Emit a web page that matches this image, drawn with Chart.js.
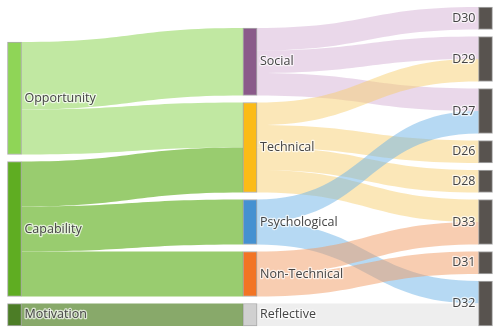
<!DOCTYPE html>
<html>
<head>
<meta charset="utf-8">
<script src="https://cdn.jsdelivr.net/npm/chart.js@4.4.1/dist/chart.umd.min.js"></script>
<style>
  html, body { margin: 0; padding: 0; background: #fff; }
  #wrap { width: 498px; height: 333px; }
</style>
</head>
<body>
<div id="wrap"><canvas id="sankeyChart" width="498" height="333"></canvas></div>
<script>
// nodes
const nodeLabels = ['Opportunity', 'Capability', 'Motivation',
    'Social', 'Technical', 'Psychological', 'Non-Technical', 'Reflective',
    'D30', 'D29', 'D27', 'D26', 'D28', 'D33', 'D31', 'D32'];
const nodeColumns = [0, 0, 0, 1, 1, 1, 1, 1, 2, 2, 2, 2, 2, 2, 2, 2];
const nodeColors = ['#8fd557', '#5fad22', '#4c7d26',
    '#8a5a8a', '#fbbb17', '#4591d1', '#f27424', '#d0d0d0',
    '#58534f', '#58534f', '#58534f', '#58534f', '#58534f', '#58534f', '#58534f', '#58534f'];

// links
const linkSources = [0, 0, 1, 1, 1, 2, 3, 3, 3, 4, 4, 4, 4, 5, 5, 6, 6, 7];
const linkTargets = [3, 4, 4, 5, 6, 7, 8, 9, 10, 9, 11, 12, 13, 10, 15, 13, 14, 15];
const linkValues  = [3, 2, 2, 2, 2, 1, 1, 1, 1, 1, 1, 1, 1, 1, 1, 1, 1, 1];

// link colour follows the source node
const linkColors = ['#c1e8a2', '#99cc6f', '#88a96a',
    'rgba(213,177,213,0.5)', 'rgba(247,207,113,0.5)', 'rgba(109,179,231,0.5)',
    'rgba(241,155,99,0.5)', '#eeeeee'];

const GAP = 7 / 22.5; // space between nodes, in value units

// node sizes
const nodeIn = nodeLabels.map(() => 0);
const nodeOut = nodeLabels.map(() => 0);
linkValues.forEach((v, i) => {
    nodeOut[linkSources[i]] += v;
    nodeIn[linkTargets[i]] += v;
});
const nodeValue = nodeLabels.map((n, i) => Math.max(nodeIn[i], nodeOut[i]));

// stack nodes per column, bottom aligned
const colTotals = [0, 1, 2].map(c => {
    const idx = nodeColumns.map((col, i) => col === c ? i : -1).filter(i => i >= 0);
    return idx.reduce((s, i) => s + nodeValue[i], 0) + (idx.length - 1) * GAP;
});
const yMax = Math.max(...colTotals);
const nodeTop = [];
[0, 1, 2].forEach(c => {
    let y = yMax - colTotals[c];
    nodeColumns.forEach((col, i) => {
        if (col !== c) return;
        nodeTop[i] = y;
        y += nodeValue[i] + GAP;
    });
});

// link offsets inside nodes
const outOff = nodeTop.slice();
const inOff = nodeTop.slice();
const links = linkValues.map((v, i) => ({ s: linkSources[i], t: linkTargets[i], v: v, i: i }));
const linkPos = [];
links.slice().sort((a, b) => a.s - b.s || a.t - b.t).forEach(l => {
    linkPos[l.i] = linkPos[l.i] || {};
    linkPos[l.i].y0 = outOff[l.s];
    outOff[l.s] += l.v;
});
links.slice().sort((a, b) => a.t - b.t || a.s - b.s).forEach(l => {
    linkPos[l.i].y1 = inOff[l.t];
    inOff[l.t] += l.v;
});

const NODE_W = 14;

const linksPlugin = {
    id: 'sankeyLinks',
    beforeDatasetsDraw(chart) {
        const ctx = chart.ctx;
        const xs = chart.scales.x, ys = chart.scales.y;
        ctx.save();
        links.forEach(l => {
            const p = linkPos[l.i];
            const x0 = xs.getPixelForValue(nodeColumns[l.s]) + NODE_W / 2;
            const x1 = xs.getPixelForValue(nodeColumns[l.t]) - NODE_W / 2;
            const xm = (x0 + x1) / 2;
            const a0 = ys.getPixelForValue(p.y0), b0 = ys.getPixelForValue(p.y0 + l.v);
            const a1 = ys.getPixelForValue(p.y1), b1 = ys.getPixelForValue(p.y1 + l.v);
            ctx.beginPath();
            ctx.moveTo(x0, a0);
            ctx.bezierCurveTo(xm, a0, xm, a1, x1, a1);
            ctx.lineTo(x1, b1);
            ctx.bezierCurveTo(xm, b1, xm, b0, x0, b0);
            ctx.closePath();
            ctx.fillStyle = linkColors[l.s];
            ctx.fill();
        });
        ctx.restore();
    },
    afterDatasetsDraw(chart) {
        const ctx = chart.ctx;
        const xs = chart.scales.x, ys = chart.scales.y;
        ctx.save();
        ctx.font = '12.5px "Open Sans", Verdana, sans-serif';
        ctx.textBaseline = 'middle';
        nodeLabels.forEach((name, i) => {
            const col = nodeColumns[i];
            const cy = ys.getPixelForValue(nodeTop[i] + nodeValue[i] / 2);
            let x;
            if (col < 2) {
                ctx.textAlign = 'left';
                x = xs.getPixelForValue(col) + NODE_W / 2 + 3;
            } else {
                ctx.textAlign = 'right';
                x = xs.getPixelForValue(col) - NODE_W / 2 - 3;
            }
            ctx.lineWidth = 2.5;
            ctx.strokeStyle = 'rgba(255,255,255,0.7)';
            ctx.lineJoin = 'round';
            ctx.strokeText(name, x, cy);
            ctx.fillStyle = '#444';
            ctx.fillText(name, x, cy);
        });
        ctx.restore();
    }
};

const ctx = document.getElementById('sankeyChart').getContext('2d');

var sankeyChart = new Chart(ctx, { //eslint-disable-line
    type: 'bar',
    data: {
        datasets: [{
            label: 'nodes',
            data: nodeLabels.map((n, i) => ({ x: nodeColumns[i], y: [nodeTop[i], nodeTop[i] + nodeValue[i]] })),
            backgroundColor: nodeColors,
            borderColor: 'rgba(68,68,68,0.45)',
            borderWidth: 1,
            borderSkipped: false,
            barThickness: NODE_W,
            grouped: false,
            clip: false
        }]
    },
    options: {
        responsive: false,
        animation: false,
        events: [],
        layout: { padding: { left: 14.5, right: 12.5, top: 7, bottom: 7 } },
        plugins: { legend: { display: false }, tooltip: { enabled: false } },
        scales: {
            x: { type: 'linear', min: 0, max: 2, offset: false, display: false },
            y: { type: 'linear', min: 0, max: yMax, reverse: true, display: false }
        }
    },
    plugins: [linksPlugin]
});
</script>
</body>
</html>
